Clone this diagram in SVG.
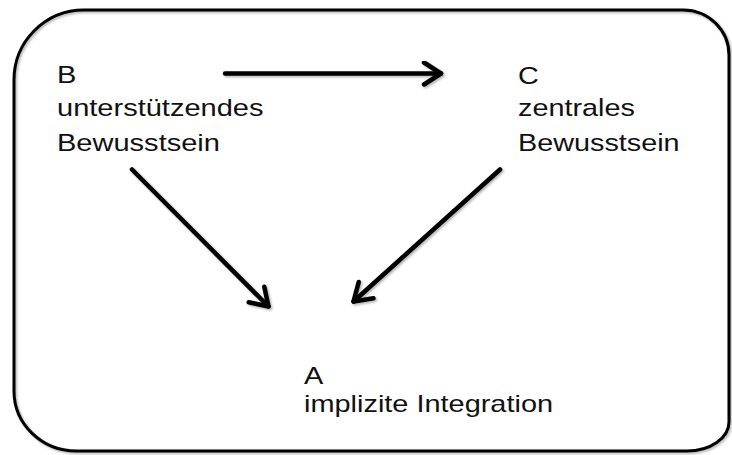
<svg xmlns="http://www.w3.org/2000/svg" width="732" height="455" viewBox="0 0 732 455">
<style>
text{font-family:"Liberation Sans",Arial,sans-serif;font-size:24px;fill:#111}
.frame{fill:none;stroke:#000;stroke-width:3}
.con{fill:none;stroke:#000;stroke-width:4.5;stroke-linecap:round}
</style>
<defs>
<filter id="sh" x="-5%" y="-5%" width="110%" height="110%">
<feDropShadow dx="1.5" dy="1.5" stdDeviation="1.2" flood-color="#000" flood-opacity="0.3"/>
</filter>
<marker id="ah" markerUnits="userSpaceOnUse" viewBox="-22 -14 26 28" refX="0" refY="0" markerWidth="26" markerHeight="28" orient="auto">
<path d="M-17,-11 L0,0 L-17,11" fill="none" stroke="#000" stroke-width="4.5" stroke-linecap="round" stroke-linejoin="round"/>
</marker>
</defs>
<g id="frame" filter="url(#sh)">
<path class="frame" d="M84,10 H683 A46,45 0 0 1 729,55 V422 A42,29 0 0 1 687,451 H76 A62,60 0 0 1 14,391 V80 A70,70 0 0 1 84,10 Z"/>
</g>
<g id="connectors" filter="url(#sh)">
<line class="con" x1="225" y1="73.5" x2="441" y2="73.5" marker-end="url(#ah)"/>
<line class="con" x1="132" y1="169.5" x2="268.5" y2="306.5" marker-end="url(#ah)"/>
<line class="con" x1="500" y1="169.5" x2="353.5" y2="301.5" marker-end="url(#ah)"/>
</g>
<g id="B" transform="matrix(1.21,0,0,1,57,0)">
<text x="0" y="83.3">B</text>
<text x="0" y="116.5">unterstützendes</text>
<text x="0" y="150.7">Bewusstsein</text>
</g>
<g id="C" transform="matrix(1.2,0,0,1,518,0)">
<text x="0" y="84">C</text>
<text x="0" y="116.5">zentrales</text>
<text x="0" y="151.5">Bewusstsein</text>
</g>
<g id="A" transform="matrix(1.205,0,0,1,304,0)">
<text x="0" y="384">A</text>
<text x="0" y="411.7">implizite Integration</text>
</g>
</svg>
